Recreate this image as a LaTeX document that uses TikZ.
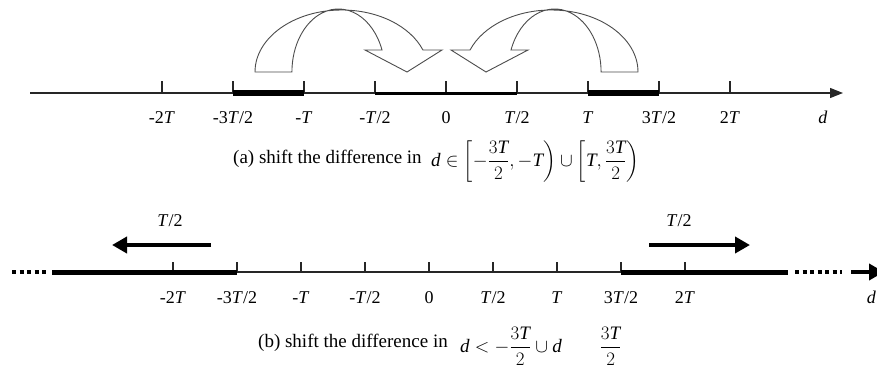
\documentclass[tikz,border=0pt]{standalone}
\usepackage{fix-cm}
\usepackage{amsmath}
\usepackage{fontspec}
\setmainfont{Liberation Serif}
\usetikzlibrary{arrows.meta, positioning}

\begin{document}
\begin{tikzpicture}[x=1pt, y=-1pt,
        font=\fontsize{18}{21}\selectfont,
        axisline/.style={line width=1.2pt, draw=black!85},
        tickmark/.style={line width=1.1pt, draw=black!85},
        tlabel/.style={anchor=base, inner sep=0pt},
        heavybar/.style={line width=6pt},
        midbar/.style={line width=3pt},
        sidebar/.style={line width=5pt},
        dotbar/.style={line width=4.5pt, dash pattern=on 4pt off 3.5pt},
        jump/.style={draw=black!70, line width=0.9pt, fill=white},
        shiftarrow/.style={line width=4.5pt, -{Triangle[length=15pt, width=16pt]}},
        caption/.style={font=\fontsize{19}{22}\selectfont, inner sep=0pt, anchor=base west}]
  \useasboundingbox (0,0) rectangle (877,370);

  % (a) axis with the shifted ranges
  \coordinate (a0) at (30,93);
  \coordinate (a1) at (843,93);
  \draw[axisline, -{Triangle[length=13pt, width=10pt]}] (a0) -- (a1);
  \foreach \lab [count=\i] in {-2\textit{T}, -3\textit{T}/2, -\textit{T}, -\textit{T}/2, 0,
      \textit{T}/2, \textit{T}, 3\textit{T}/2, 2\textit{T}} {
    \coordinate (u\i) at (91+71*\i,93);
    \draw[tickmark] (u\i) -- ++(0,-12);
    \node[tlabel] (la\i) at (91+71*\i,123) {\lab};
  }
  \node[tlabel] (da) at (823,123) {\textit{d}};
  \draw[heavybar] (u2) -- (u3);
  \draw[midbar] (u4) -- (u6);
  \draw[heavybar] (u7) -- (u8);

  % curved jumps into [-T/2, T/2)
  \draw[jump] (255,72) arc[start angle=180, end angle=339.2, x radius=86.8, y radius=62]
      -- (442,50) -- (407,72) -- (365,50) -- (382,50)
      arc[start angle=-20.4, end angle=-180, x radius=46.5, y radius=63] -- cycle;
  \draw[jump] (638,72) arc[start angle=0, end angle=-159.2, x radius=86.8, y radius=62]
      -- (451,50) -- (486,72) -- (528,50) -- (511,50)
      arc[start angle=-159.6, end angle=0, x radius=46.5, y radius=63] -- cycle;

  \node[caption] (capa) at (233,163) {(a) shift the difference in};
  \node[caption, base right=9pt of capa, yshift=-3pt] (mapa)
    {$\displaystyle \textit{d}\in\left[-\frac{3\textit{T}}{2},-\textit{T}\right)\cup
      \left[\textit{T},\frac{3\textit{T}}{2}\right)$};

  % (b) axis with the outer parts
  \foreach \lab [count=\i] in {-2\textit{T}, -3\textit{T}/2, -\textit{T}, -\textit{T}/2, 0,
      \textit{T}/2, \textit{T}, 3\textit{T}/2, 2\textit{T}} {
    \coordinate (v\i) at (109+64*\i,272);
    \draw[tickmark] (v\i) -- ++(0,-10);
    \node[tlabel] (lb\i) at (109+64*\i,303) {\lab};
  }
  \draw[axisline] (v2) -- (v8);
  \coordinate (bl) at (52,272);
  \coordinate (br) at (788,272);
  \draw[sidebar] (bl) -- (v2);
  \draw[sidebar] (v8) -- (br);
  \coordinate (dl0) at (12,272);
  \coordinate (dl1) at (48,272);
  \draw[dotbar] (dl0) -- (dl1);
  \coordinate (dr0) at (795,272);
  \coordinate (dr1) at (842,272);
  \draw[dotbar] (dr0) -- (dr1);
  \coordinate (e0) at (851,272);
  \coordinate (e1) at (884,272);
  \draw[shiftarrow] (e0) -- (e1); % cut at the page edge
  \node[tlabel, anchor=base east] (db) at (876,303) {\textit{d}};

  \coordinate (sl0) at (211,245);
  \coordinate (sl1) at (112,245);
  \draw[shiftarrow] (sl0) -- (sl1);
  \node[tlabel] (hl) at (170,226) {\textit{T}/2};
  \coordinate (sr0) at (649,245);
  \coordinate (sr1) at (750,245);
  \draw[shiftarrow] (sr0) -- (sr1);
  \node[tlabel] (hr) at (679,226) {\textit{T}/2};

  \node[caption] (capb) at (258,347) {(b) shift the difference in};
  \node[caption, base right=12pt of capb, yshift=-5pt] (mapb)
    {$\displaystyle \textit{d}<-\frac{3\textit{T}}{2}\cup\textit{d}\qquad\frac{3\textit{T}}{2}$};
\end{tikzpicture}
\end{document}
